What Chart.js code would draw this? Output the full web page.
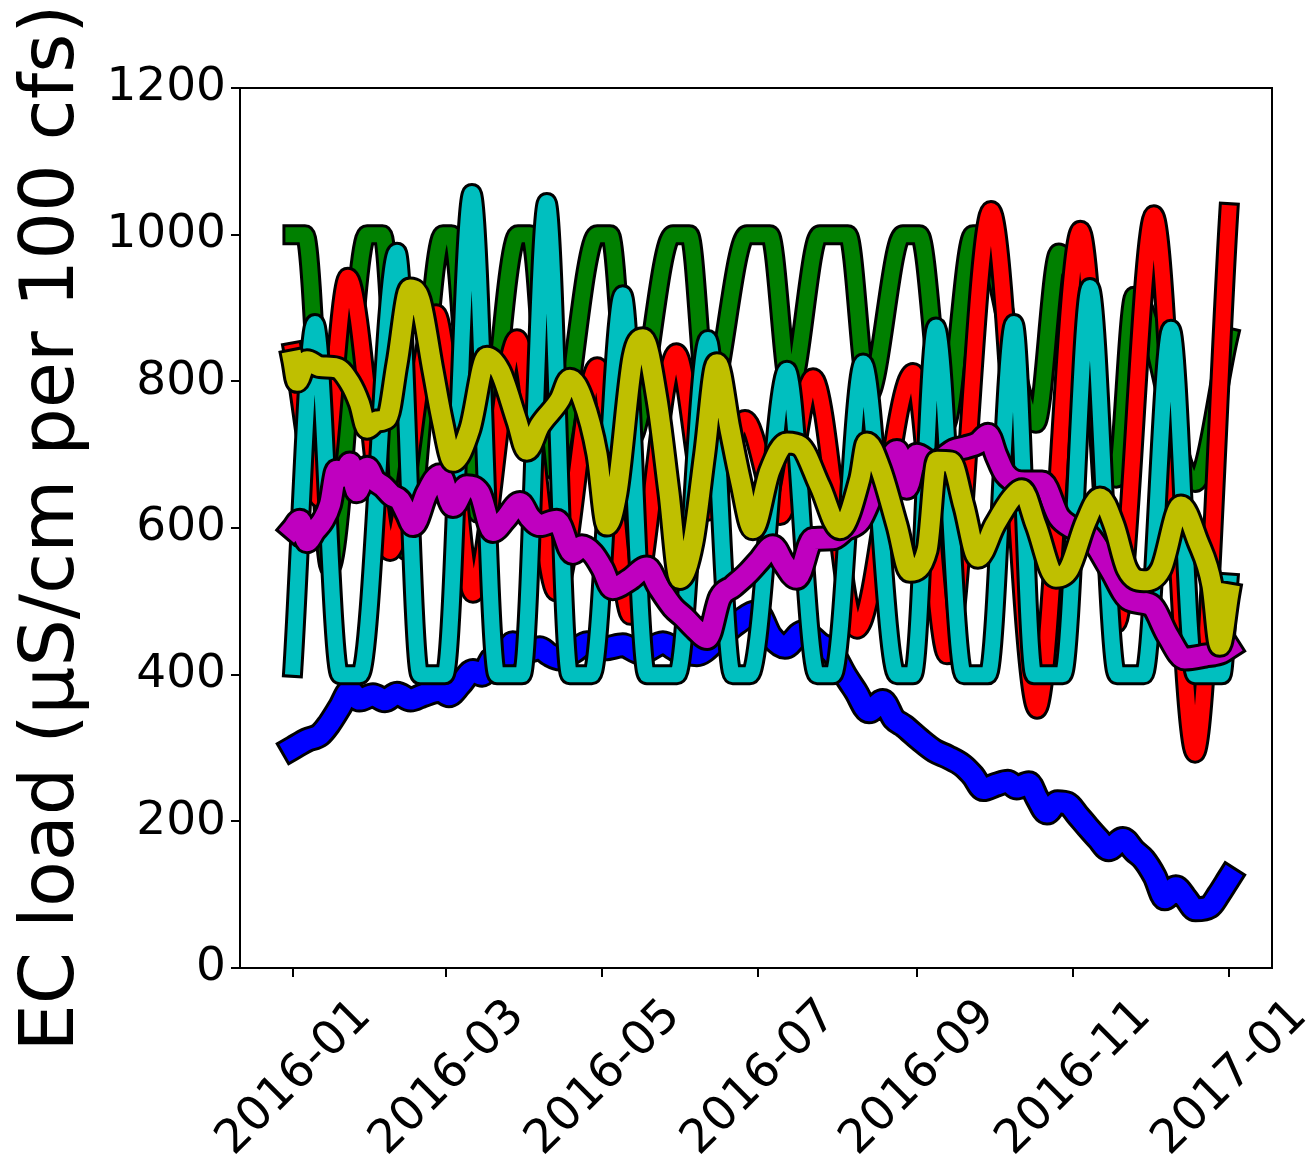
<!DOCTYPE html>
<html>
<head>
<meta charset="utf-8">
<script src="https://cdn.jsdelivr.net/npm/chart.js@4.4.1/dist/chart.umd.min.js"></script>
<style>
  html, body { margin: 0; padding: 0; background: #fff; }
  #wrap { width: 1314px; height: 1159px; position: relative; }
</style>
</head>
<body>
<div id="wrap"><canvas id="chart"></canvas></div>
<script>
// x values are days since 2016-01-01
const tickDays = [0, 60, 121, 182, 244, 305, 366];
const tickLabels = ['2016-01', '2016-03', '2016-05', '2016-07', '2016-09', '2016-11', '2017-01'];

const blueDays = [0, 5.5, 10.6, 14, 18.4, 22.3, 26, 31.3, 36, 40.7, 46, 50.8, 57.5, 61, 65.3, 70.4, 74, 78.2, 82, 86,
  91, 96.6, 100, 104.4, 110, 115, 122, 129, 136, 144.7, 151, 158, 166, 173.6, 181.5, 187, 192.4, 199.5, 206, 211,
  215.9, 220, 225.3, 230.7, 235, 239, 245, 251, 256, 262, 266, 270, 275, 279.6, 283, 287.8, 291, 294.9, 299, 303,
  307, 310.9, 315, 319, 324.6, 329, 332.8, 337, 341, 345.3, 349, 353, 358.6, 362, 366];
const blueValues = [300, 311, 318, 332, 356, 378, 366, 372, 365, 374, 366, 372, 378, 372, 386, 405, 400, 422, 418, 443,
  432, 436, 428, 422, 432, 443, 436, 440, 430, 443, 432, 428, 448, 470, 485, 452, 438, 458, 442, 430,
  400, 378, 350, 364, 340, 330, 312, 296, 288, 276, 262, 244, 250, 254, 246, 252, 232, 212, 226, 224,
  208, 192, 176, 162, 176, 160, 148, 125, 95, 110, 96, 80, 84, 100, 122];

const greenDays = [0, 4.7, 14.5, 29, 35, 43.8, 58.7, 62, 72.4, 88, 92.7, 101.7, 119, 124, 132, 148.6, 155, 162.3,
  177.5, 186.5, 194.4, 206, 217, 225, 238.5, 245, 255, 266, 268.5, 290.6, 299.5, 322, 329, 352.8, 366];
const greenValues = [1000, 1000, 545, 1000, 1000, 570, 1000, 1000, 620, 1000, 1000, 680, 1000, 1000, 720, 1000, 1000, 765,
  1000, 1000, 790, 1000, 1000, 780, 1000, 1000, 740, 1000, 1000, 743, 975, 668, 916, 662, 860];

const redDays = [0, 10.6, 21.5, 38, 56, 70.4, 87.6, 103, 119, 132, 150, 162.3, 176.8, 190.5, 203.4, 220.6, 242.5,
  255.8, 273, 291, 308, 322, 336.7, 352.8, 366];
const redValues = [840, 640, 942, 568, 892, 511, 858, 513, 820, 481, 839, 623, 748, 617, 805, 462, 812,
  427, 1033, 353, 1006, 470, 1027, 293, 1030];

const cyanDays = [0, 8.6, 18.4, 26.2, 40.7, 49.7, 59.4, 70, 79.8, 89.6, 99.3, 108.3, 116.9, 129, 138.4, 150.2,
  162.3, 172, 178.7, 193.2, 205, 211.2, 223, 236.2, 242.5, 251.5, 262.4, 271.8, 282, 289.8, 301.1, 311.7, 322.3,
  332.8, 343.4, 352.8, 363.3, 366];
const cyanValues = [410, 879, 400, 400, 976, 400, 400, 1056, 400, 400, 1044, 400, 400, 918, 400, 400,
  857, 400, 400, 815, 400, 400, 825, 400, 400, 874, 400, 400, 879, 400, 400, 928, 400,
  400, 871, 400, 400, 525];

const magentaDays = [0, 2.7, 5.5, 8.5, 11.7, 14.5, 17.2, 19.8, 22.3, 25, 29, 32, 35.2, 38.5, 41.8, 44.5, 47, 52.4,
  57.5, 62.6, 68, 73, 78.2, 83, 88.8, 92.5, 96.6, 103.2, 109.5, 113, 117.3, 121, 125, 131.8, 138.4, 143, 148.6,
  153, 157.5, 162, 167, 172, 177.5, 182.5, 187.7, 192, 197, 203.4, 211.2, 216, 221.7, 226.8, 232.3, 236.2, 240,
  244, 250.3, 254, 258.5, 263, 268, 271.8, 275, 278.5, 286.3, 293, 299.6, 305, 311.7, 319.5, 327.3, 335.5, 342.2,
  348.8, 356.7, 363.3, 366];
const magentaValues = [599, 610, 582, 596, 610, 632, 678, 670, 688, 650, 682, 665, 657, 645, 638, 620, 604, 648,
  672, 630, 657, 648, 596, 612, 634, 615, 604, 610, 566, 575, 565, 545, 518, 530, 546, 520, 492,
  478, 462, 450, 505, 520, 537, 556, 575, 552, 532, 585, 586, 598, 610, 648, 686, 705, 655,
  700, 688, 695, 706, 710, 716, 727, 700, 674, 662, 662, 615, 600, 588, 545, 502, 495, 453,
  422, 426, 431, 437];

const yellowDays = [0, 1.6, 5.5, 10.6, 17.2, 22.3, 26, 29, 32.9, 36.8, 40.7, 45.8, 49.7, 54.8, 58.5, 62.6, 69.2,
  75.9, 81, 87.6, 91.5, 96.6, 104.4, 108.3, 113.4, 118.9, 122.8, 126.7, 133, 136.9, 142.4, 147, 151.3, 156.4, 161,
  165.8, 170.9, 175, 179.9, 186.5, 193.2, 198.3, 206.1, 213.9, 221.7, 224.5, 229.6, 236.2, 241.3, 248, 251.9,
  257.3, 262.4, 267.9, 274.5, 281.2, 285.1, 290.6, 298.4, 303.5, 310.1, 315.6, 321.1, 326.2, 332.8, 339.5, 347.3,
  353.9, 359.4, 362.5, 366];
const yellowValues = [828, 800, 828, 820, 818, 798, 770, 736, 746, 750, 824, 926, 911, 814, 745, 691, 735,
  833, 814, 746, 706, 740, 775, 803, 775, 701, 604, 648, 833, 858, 775, 650, 531, 580, 700,
  824, 735, 665, 599, 678, 716, 712, 657, 599, 667, 716, 682, 604, 541, 570, 691,
  690, 630, 560, 604, 641, 652, 604, 533, 544, 608, 641, 604, 544, 528, 544, 630,
  582, 522, 440, 510];

// plotted in this order, later ones on top; noisy daily series look thicker
const series = [
  { days: blueDays, values: blueValues, color: '#0000ff', width: 20 },
  { days: greenDays, values: greenValues, color: '#008000', width: 15 },
  { days: redDays, values: redValues, color: '#ff0000', width: 15 },
  { days: cyanDays, values: cyanValues, color: '#00bfbf', width: 15 },
  { days: magentaDays, values: magentaValues, color: '#bf00bf', width: 20 },
  { days: yellowDays, values: yellowValues, color: '#bfbf00', width: 19 }
];

function lineDataset(s, color, width, drawIndex) {
  return {
    data: s.days.map((d, i) => ({ x: d, y: s.values[i] })),
    borderColor: color,
    borderWidth: width,
    borderCapStyle: 'square',
    borderJoinStyle: 'round',
    cubicInterpolationMode: 'monotone',
    pointRadius: 0,
    fill: false,
    order: 100 - drawIndex
  };
}

const datasets = [];
series.forEach((s, k) => {
  datasets.push(lineDataset(s, '#000000', s.width + 6, 2 * k));
  datasets.push(lineDataset(s, s.color, s.width, 2 * k + 1));
});

const frame = {
  id: 'frame',
  afterDatasetsDraw(chart) {
    const { ctx, chartArea: a } = chart;
    ctx.save();
    ctx.strokeStyle = '#000';
    ctx.lineWidth = 2;
    ctx.strokeRect(a.left, a.top, a.right - a.left, a.bottom - a.top);
    ctx.restore();
  }
};

const font = { family: 'DejaVu Sans', size: 47 };

new Chart(document.getElementById('chart'), {
  type: 'line',
  data: { datasets: datasets },
  plugins: [frame],
  options: {
    responsive: true,
    maintainAspectRatio: false,
    animation: false,
    devicePixelRatio: 1,
    layout: { padding: { top: 88, right: 42, left: 0, bottom: 0 } },
    plugins: { legend: { display: false }, tooltip: { enabled: false } },
    scales: {
      x: {
        type: 'linear',
        min: -20.7,
        max: 382.9,
        afterBuildTicks: scale => { scale.ticks = tickDays.map(v => ({ value: v })); },
        afterFit: scale => { scale.height = 191; scale.paddingLeft = 0; scale.paddingRight = 0; },
        border: { display: false },
        grid: { drawOnChartArea: false, drawTicks: true, tickLength: 9, color: '#000', lineWidth: 2 },
        ticks: {
          autoSkip: false, minRotation: 45, maxRotation: 45, labelOffset: 71, padding: 12,
          color: '#000', font: font,
          callback: (value, index) => tickLabels[index]
        }
      },
      y: {
        min: 0,
        max: 1200,
        afterFit: scale => { scale.width = 240; scale.paddingTop = 0; scale.paddingBottom = 0; },
        border: { display: false },
        grid: { drawOnChartArea: false, drawTicks: true, tickLength: 9, color: '#000', lineWidth: 2 },
        ticks: { stepSize: 200, padding: 5, color: '#000', font: font, callback: value => String(value) },
        title: {
          display: true,
          text: 'EC load (μS/cm per 100 cfs)',
          color: '#000',
          font: { family: 'DejaVu Sans', size: 75 },
          padding: { top: 9, bottom: 0 }
        }
      }
    }
  }
});
</script>
</body>
</html>
